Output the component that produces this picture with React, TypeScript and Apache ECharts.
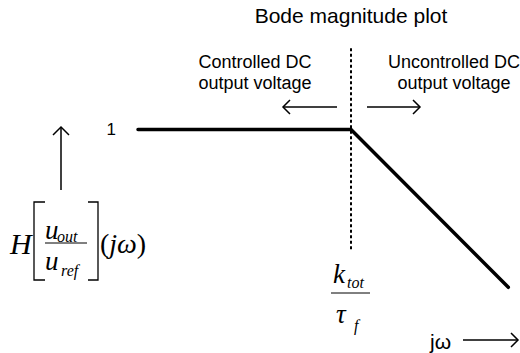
import React, { useEffect, useRef } from "react";
import * as echarts from "echarts";

// ---- data (Bode magnitude, asymptotic) ----
const omega: number[] = [0.01, 1, 30]; // angular frequency (break at k_tot/tau_f = 1)
const magnitude: number[] = [1, 1, 0.033]; // |H|
const breakFrequency = 1;
const breakLineTop = 5.8; // magnitude-axis extent of the dotted break line
const breakLineBottom = 0.072;
const yTickValues: number[] = [1];
const yTickLabels: string[] = ["1"];
const titleText = "Bode magnitude plot";
const leftNote: string[] = ["Controlled DC", "output voltage"];
const rightNote: string[] = ["Uncontrolled DC", "output voltage"];

const SANS = "'Liberation Sans', Arial, sans-serif";
const SERIF = "'Liberation Serif', 'Times New Roman', serif";

function txt(text: string, x: number, y: number, font: string, align = "left", extra: any = {}) {
  return {
    type: "text",
    silent: true,
    style: { text, x, y, font, fill: "#000", textAlign: align, textVerticalAlign: "middle", ...extra },
  };
}
function seg(points: number[][], w = 1.5) {
  return {
    type: "polyline",
    silent: true,
    shape: { points },
    style: { stroke: "#000", lineWidth: w, fill: "none" },
  };
}

export default function App() {
  const ref = useRef<HTMLDivElement>(null);
  useEffect(() => {
    if (!ref.current) return;
    const chart = echarts.init(ref.current, null, { renderer: "svg" });
    const graphic: any[] = [
      // notes
      txt(leftNote[0], 255, 62, `18px ${SANS}`, "center"),
      txt(leftNote[1], 255, 83, `18px ${SANS}`, "center"),
      txt(rightNote[0], 454, 62, `18px ${SANS}`, "center"),
      txt(rightNote[1], 454, 83, `18px ${SANS}`, "center"),
      // left / right arrows
      seg([[283, 107], [337, 107]]),
      seg([[290, 100], [283, 107], [290, 114]]),
      seg([[367, 107], [420, 107]]),
      seg([[413, 100], [420, 107], [413, 114]]),
      // up arrow
      seg([[61, 127], [61, 190]]),
      seg([[53, 135], [61, 127], [69, 135]]),
      // H[u_out/u_ref](jω)
      txt("H", 10, 243, `italic 30px ${SERIF}`),
      seg([[45, 202], [34, 202], [34, 280], [45, 280]], 1.3),
      seg([[88, 202], [98, 202], [98, 280], [88, 280]], 1.3),
      txt("u", 45, 230, `italic 27px ${SERIF}`),
      txt("out", 57, 236, `italic 16px ${SERIF}`),
      seg([[45, 243], [87, 243]], 1),
      txt("u", 45, 261, `italic 27px ${SERIF}`),
      txt("ref", 61, 270, `italic 16px ${SERIF}`),
      {
        type: "text",
        silent: true,
        style: {
          text: "{n|(}{i|jω}{n|)}",
          x: 100,
          y: 243,
          fill: "#000",
          textAlign: "left",
          textVerticalAlign: "middle",
          rich: {
            n: { font: `28px ${SERIF}`, fill: "#000" },
            i: { font: `italic 28px ${SERIF}`, fill: "#000" },
          },
        },
      },
      // k_tot / tau_f
      txt("k", 333, 274, `italic 27px ${SERIF}`),
      txt("tot", 347, 282, `italic 16px ${SERIF}`),
      seg([[331, 293], [370, 293]], 1),
      txt("τ", 336, 314, `italic 27px ${SERIF}`),
      txt("f", 354, 325, `italic 16px ${SERIF}`),
      // jω axis arrow
      txt("jω", 430, 341, `21px ${SANS}`),
      seg([[463, 340], [518, 340]]),
      seg([[511, 333], [518, 340], [511, 347]]),
    ];
    chart.setOption({
      animation: false,
      backgroundColor: "#fff",
      title: {
        text: titleText,
        left: 351,
        top: 5,
        padding: 0,
        textAlign: "center",
        textStyle: { fontSize: 21, fontWeight: "normal", color: "#000", fontFamily: SANS },
      },
      grid: { left: 138, right: 9.25, top: 23, bottom: 10.5, containLabel: false },
      xAxis: {
        type: "log",
        logBase: 10,
        min: 0.01,
        max: 31.6228,
        axisLine: { show: false },
        axisTick: { show: false },
        axisLabel: { show: false },
        splitLine: { show: false },
      },
      yAxis: {
        type: "log",
        logBase: 10,
        min: 0.01,
        max: 10,
        axisLine: { show: false },
        axisTick: { show: false },
        splitLine: { show: false },
        axisLabel: {
          margin: 22,
          fontSize: 17,
          color: "#000",
          fontFamily: SANS,
          formatter: (v: number) => {
            const i = yTickValues.findIndex((t) => Math.abs(t - v) < 1e-9);
            return i >= 0 ? yTickLabels[i] : "";
          },
        },
      },
      series: [
        {
          type: "line",
          data: omega.map((w, i) => [w, magnitude[i]]),
          symbol: "none",
          clip: false,
          lineStyle: { color: "#000", width: 3.5, cap: "round", join: "miter" },
          markLine: {
            silent: true,
            symbol: ["none", "none"],
            label: { show: false },
            lineStyle: { color: "#000", width: 2, type: [3, 2.5] },
            data: [
              [
                { coord: [breakFrequency, breakLineTop] },
                { coord: [breakFrequency, breakLineBottom] },
              ],
            ],
          },
        },
      ],
      graphic,
    });
    return () => chart.dispose();
  }, []);
  return (
    <div
      ref={ref}
      style={{ position: "absolute", left: 0, top: 0, width: 520, height: 353, background: "#fff" }}
    />
  );
}
